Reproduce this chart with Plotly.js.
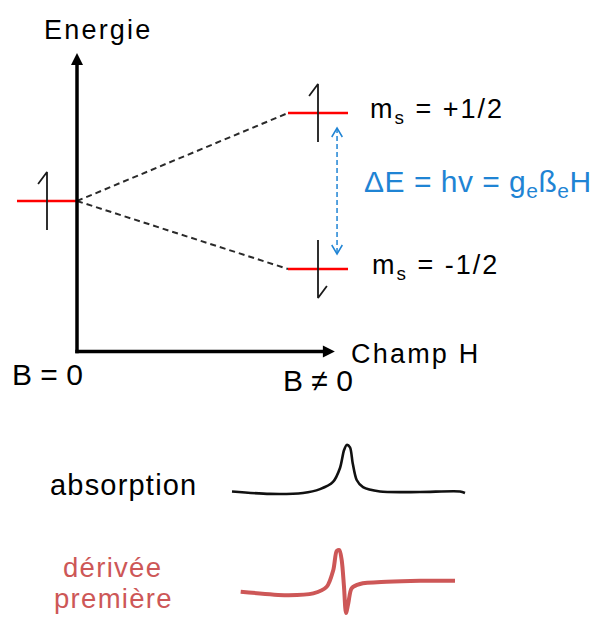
<!DOCTYPE html>
<html>
<head>
<meta charset="utf-8">
<script src="https://cdn.plot.ly/plotly-3.0.1.min.js"></script>
<style>
  html, body { margin: 0; padding: 0; background: #fff; }
  #chart { width: 594px; height: 621px; }
</style>
</head>
<body>
<div id="chart"></div>
<script>
// ---------------- DATA ----------------
// Field positions on the diagram (B = 0 and B ≠ 0)
const fieldPositions = [0, 1];
const fieldLabels = ['B = 0', 'B ≠ 0'];
// Energy of the unsplit level and of the two Zeeman levels (arbitrary units)
const energyZero = 0;
const splitEnergies = [0.88, -0.68];
const splitLabels = ['m<sub>s</sub> = +1/2', 'm<sub>s</sub> = -1/2'];
const splitSpins = [1, -1];
const deltaLabel = 'ΔE = hv = g<sub>e</sub>ß<sub>e</sub>H';
const axisLabels = ['Energie', 'Champ H'];
// Absorption spectrum (field, intensity)
const absField = [0.2, 4.0, 7.3, 9.0, 10.3, 11.0, 11.4, 11.67, 12.0, 12.27, 12.67, 13.3, 15.0, 19.0, 23.0, 23.5];
const absInt   = [0.01, -0.04, -0.02, 0.06, 0.21, 0.5, 0.87, 0.98, 0.93, 0.6, 0.25, 0.1, 0.01, 0.0, 0.01, -0.02];
// First derivative spectrum (field, intensity)
const derField = [1.07, 5.67, 8.33, 9.67, 10.33, 10.67, 10.93, 11.17, 11.4, 11.6, 11.83, 12.17, 13.0, 15.67, 19.0, 22.5];
const derInt   = [-0.19, -0.29, -0.24, -0.05, 0.43, 0.97, 1.0, 0.71, -0.05, -0.8, -0.52, -0.09, 0.03, 0.09, 0.12, 0.12];
const spectrumLabels = ['absorption', 'dérivée', 'première'];

// ---------------- STYLE ----------------
const W = 594, H = 621;
const FONT = 'Liberation Sans, Arial, Helvetica, sans-serif';
const RED = '#ff0000';
const BLUE = '#1f84d4';
const SPEC_RED = '#cd5757';
const LEVEL_W = 0.249;     // width of a level segment (diagram units)
const SPIN_H = 0.29;       // half height of spin harpoon
const SPIN_HX = 0.037, SPIN_HY = 0.12;
const AXIS_E = -1.505;     // energy at the horizontal axis
const AXIS_TIP_E = 1.48;
const AXIS_TIP_X = 1.07;
const HEAD_E = 0.09, HEAD_X = 0.035;   // shaft shortening under arrow heads
const DELTA_X = 1.079;
const DELTA_GAP = 0.15;
const CHEV_X = 0.022, CHEV_E = 0.09;   // blue chevron arm size

const px = v => v / W;
const py = v => 1 - v / H;
const ls = (t, s) => s ? '<span style="letter-spacing:' + s + 'px">' + t + '</span>' : t;

// ---------------- TRACES ----------------
const leftCenter = fieldPositions[0] - LEVEL_W / 2;
const rightStart = fieldPositions[1] - LEVEL_W / 2;
const rightEnd = fieldPositions[1] + LEVEL_W / 2;

const levelX = [fieldPositions[0] - LEVEL_W, fieldPositions[0]];
const levelY = [energyZero, energyZero];
splitEnergies.forEach(e => { levelX.push(null, rightStart, rightEnd); levelY.push(null, e, e); });

const dashX = [], dashY = [];
splitEnergies.forEach(e => { dashX.push(fieldPositions[0], rightStart, null); dashY.push(energyZero, e, null); });

function spin(xc, e, dir) {
  if (dir > 0) return {x: [xc, xc, xc - SPIN_HX, null], y: [e - SPIN_H, e + SPIN_H, e + SPIN_H - SPIN_HY, null]};
  return {x: [xc, xc, xc + SPIN_HX, null], y: [e + SPIN_H, e - SPIN_H, e - SPIN_H + SPIN_HY, null]};
}
const spinX = [], spinY = [];
[spin(leftCenter, energyZero, 1)].concat(splitEnergies.map((e, i) => spin(fieldPositions[1], e, splitSpins[i])))
  .forEach(s => { spinX.push(...s.x); spinY.push(...s.y); });

const dTop = splitEnergies[0] - DELTA_GAP, dBot = splitEnergies[1] + DELTA_GAP;
const chevX = [DELTA_X - CHEV_X, DELTA_X, DELTA_X + CHEV_X, null, DELTA_X - CHEV_X, DELTA_X, DELTA_X + CHEV_X];
const chevY = [dTop - CHEV_E, dTop, dTop - CHEV_E, null, dBot + CHEV_E, dBot, dBot + CHEV_E];

const traces = [
  {x: dashX, y: dashY, mode: 'lines', line: {color: '#2a2a2a', width: 2, dash: '6px,4px'}, hoverinfo: 'skip'},
  {x: levelX, y: levelY, mode: 'lines', line: {color: RED, width: 2.5}, hoverinfo: 'skip'},
  {x: spinX, y: spinY, mode: 'lines', line: {color: '#1a1a1a', width: 1.8}, hoverinfo: 'skip'},
  {x: [DELTA_X, DELTA_X], y: [dTop, dBot], mode: 'lines',
   line: {color: BLUE, width: 1.5, dash: '5px,3px'}, hoverinfo: 'skip'},
  {x: chevX, y: chevY, mode: 'lines', line: {color: BLUE, width: 1.5}, hoverinfo: 'skip'},
  // axes
  {x: [fieldPositions[0], fieldPositions[0]], y: [AXIS_E - 0.017, AXIS_TIP_E - HEAD_E], mode: 'lines',
   line: {color: '#000', width: 3.5}, hoverinfo: 'skip'},
  {x: [fieldPositions[0] - 0.007, AXIS_TIP_X - HEAD_X], y: [AXIS_E, AXIS_E], mode: 'lines',
   line: {color: '#000', width: 3.5}, hoverinfo: 'skip'},
  {x: [fieldPositions[0], AXIS_TIP_X], y: [AXIS_TIP_E, AXIS_E], mode: 'markers',
   marker: {symbol: ['arrow-up', 'arrow-right'], size: 12, color: '#000', line: {width: 0}}, hoverinfo: 'skip'},
  // spectra
  {x: absField, y: absInt, xaxis: 'x2', yaxis: 'y2', mode: 'lines',
   line: {color: '#111', width: 2.6, shape: 'spline', smoothing: 0.8}, hoverinfo: 'skip'},
  {x: derField, y: derInt, xaxis: 'x2', yaxis: 'y3', mode: 'lines',
   line: {color: SPEC_RED, width: 4, shape: 'spline', smoothing: 0.8}, hoverinfo: 'skip'}
];

// ---------------- ANNOTATIONS ----------------
const ann = [];
const txt = (o) => Object.assign({showarrow: false, xanchor: 'left', yanchor: 'middle'}, o);
// axis titles
ann.push(txt({xref: 'paper', yref: 'paper', x: px(42), y: py(30), text: ls(axisLabels[0], 2.2), font: {family: FONT, size: 27, color: '#000'}}));
ann.push(txt({xref: 'paper', yref: 'paper', x: px(349), y: py(354), text: ls(axisLabels[1], 2.2), font: {family: FONT, size: 27, color: '#000'}}));
// field labels
ann.push(txt({xref: 'x', yref: 'paper', x: leftCenter, xanchor: 'center', y: py(374.5), text: fieldLabels[0], font: {family: FONT, size: 30, color: '#000'}}));
ann.push(txt({xref: 'x', yref: 'paper', x: fieldPositions[1], xanchor: 'center', y: py(381), text: fieldLabels[1], font: {family: FONT, size: 30, color: '#000'}}));
// level labels
splitEnergies.forEach((e, i) => {
  ann.push(txt({xref: 'x', yref: 'y', x: 1.208 + i * 0.008, y: e, yshift: 2, text: ls(splitLabels[i], 2.0), font: {family: FONT, size: 27, color: '#000'}}));
});
// energy gap
ann.push(txt({xref: 'x', yref: 'y', x: 1.184, y: (splitEnergies[0] + splitEnergies[1]) / 2, yshift: 8,
  text: ls(deltaLabel, 0.5), font: {family: FONT, size: 30, color: BLUE}}));
// spectrum labels
ann.push(txt({xref: 'paper', yref: 'paper', x: px(48), y: py(485), text: ls(spectrumLabels[0], 1.2), font: {family: FONT, size: 29, color: '#000'}}));
ann.push(txt({xref: 'paper', yref: 'paper', x: px(61), y: py(567.5), text: ls(spectrumLabels[1], 1.3), font: {family: FONT, size: 27.5, color: SPEC_RED}}));
ann.push(txt({xref: 'paper', yref: 'paper', x: px(51.5), y: py(598), text: ls(spectrumLabels[2], 1.3), font: {family: FONT, size: 27.5, color: SPEC_RED}}));

// ---------------- LAYOUT ----------------
const hidden = {visible: false, fixedrange: true};
const layout = {
  width: W, height: H,
  margin: {l: 0, r: 0, t: 0, b: 0, pad: 0},
  paper_bgcolor: '#fff', plot_bgcolor: '#fff',
  showlegend: false,
  xaxis: Object.assign({range: [-77 / 241, 517 / 241], domain: [0, 1]}, hidden),
  yaxis: Object.assign({range: [-4.2, 2.01], domain: [0, 1]}, hidden),
  xaxis2: Object.assign({range: [-23, 36.4], overlaying: 'x', anchor: 'y2'}, hidden),
  yaxis2: Object.assign({range: [-2.6875, 10.25], overlaying: 'y', anchor: 'x2'}, hidden),
  yaxis3: Object.assign({range: [-1.0286, 16.714], overlaying: 'y', anchor: 'x2'}, hidden),
  annotations: ann
};

Plotly.newPlot('chart', traces, layout, {staticPlot: true, displayModeBar: false});
</script>
</body>
</html>
